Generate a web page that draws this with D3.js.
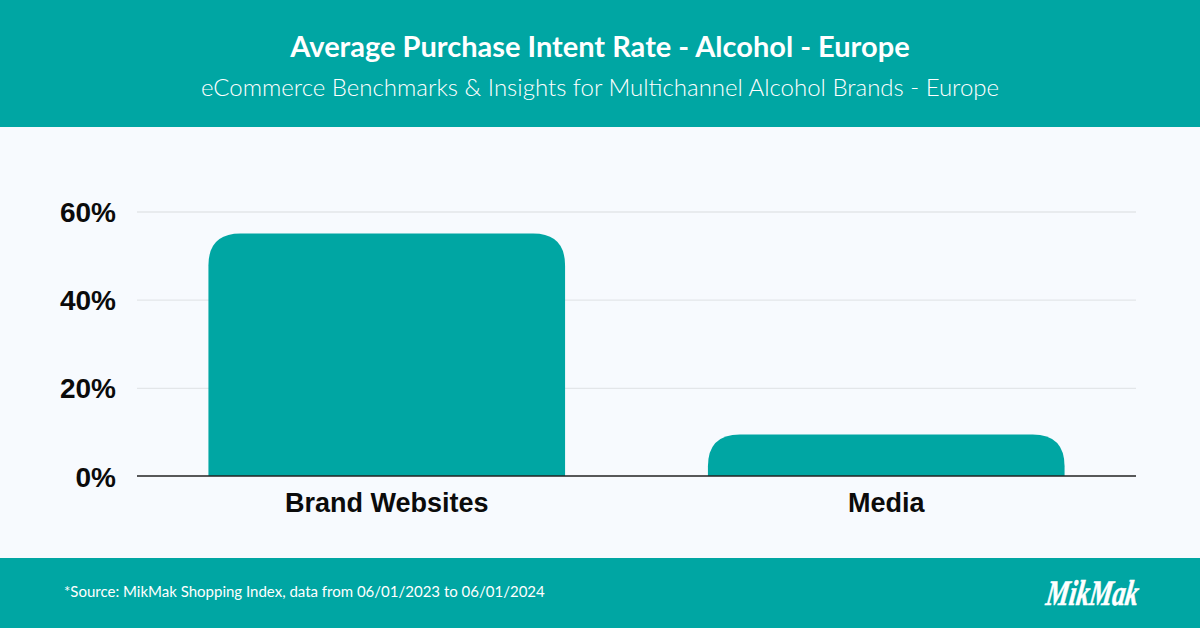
<!DOCTYPE html>
<html>
<head>
<meta charset="utf-8">
<script src="https://cdn.jsdelivr.net/npm/d3@7"></script>
<style>
html, body { margin: 0; padding: 0; background: #f7fafe; }
svg { display: block; font-family: Lato, sans-serif; }
.axis .domain { display: none; }
.axis--y line { stroke: #e3e6e9; stroke-width: 1.3; }
.axis--y text { font-size: 28px; font-weight: 700; fill: #0b0b0b; }
.axis--x line { display: none; }
.axis--x text { font-size: 27px; font-weight: 700; fill: #0b0b0b; }
</style>
</head>
<body>
<svg width="1200" height="628"></svg>
<script>
var titleText = "Average Purchase Intent Rate - Alcohol - Europe";
var subtitleText = "eCommerce Benchmarks & Insights for Multichannel Alcohol Brands - Europe";
var sourceText = "*Source: MikMak Shopping Index, data from 06/01/2023 to 06/01/2024";
var logoText = "MikMak";
var categories = ["Brand Websites", "Media"];
var values = [55, 9.4];
var yTicks = [0, 20, 40, 60];

var teal = "#00a6a3";
var svg = d3.select("svg"),
    margin = {top: 211.5, right: 64, bottom: 152, left: 137},
    width = +svg.attr("width") - margin.left - margin.right,
    height = +svg.attr("height") - margin.top - margin.bottom;

// header and footer bands
svg.append("rect").attr("width", 1200).attr("height", 127).attr("fill", teal);
svg.append("rect").attr("y", 558).attr("width", 1200).attr("height", 70).attr("fill", teal);

svg.append("text")
    .attr("x", 600).attr("y", 57)
    .attr("text-anchor", "middle")
    .attr("fill", "#fff")
    .style("font-size", "29px").style("font-weight", 700)
    .text(titleText);
svg.append("text")
    .attr("x", 600).attr("y", 96)
    .attr("text-anchor", "middle")
    .attr("fill", "#fff")
    .style("font-size", "24px").style("font-weight", 300)
    .text(subtitleText);
svg.append("text")
    .attr("x", 64).attr("y", 597)
    .attr("fill", "#fff")
    .style("font-size", "15px")
    .text(sourceText);
svg.append("text")
    .attr("transform", "translate(1045,605) skewX(-8)")
    .attr("fill", "#fff")
    .attr("stroke", "#fff")
    .attr("stroke-width", 0.6)
    .attr("textLength", 92)
    .attr("lengthAdjust", "spacingAndGlyphs")
    .style("font-family", "'Liberation Serif', serif")
    .style("font-size", "36px").style("font-style", "italic").style("font-weight", 700)
    .text(logoText);

var g = svg.append("g").attr("transform", "translate(" + margin.left + "," + margin.top + ")");

var x = d3.scaleBand().domain(categories).range([0, width]).paddingInner(0.286).paddingOuter(0.143);
var y = d3.scaleLinear().domain([0, 60]).range([height, 0]);

var yAxis = g.append("g")
    .attr("class", "axis axis--y")
    .call(d3.axisLeft(y).tickValues(yTicks).tickSize(-width).tickPadding(21).tickFormat(function(d) { return d + "%"; }));
yAxis.selectAll("text").attr("dy", "0.36em");
yAxis.selectAll(".tick").filter(function(d) { return d === 0; }).select("line").style("display", "none");

var radius = 32;
function barPath(d, i) {
    var x0 = x(d.name), w = x.bandwidth(), top = y(d.value), base = y(0);
    var r = Math.min(radius, base - top);
    return "M" + x0 + "," + base +
        "V" + (top + r) +
        "Q" + x0 + "," + top + " " + (x0 + r) + "," + top +
        "H" + (x0 + w - r) +
        "Q" + (x0 + w) + "," + top + " " + (x0 + w) + "," + (top + r) +
        "V" + base + "Z";
}

g.selectAll(".bar")
    .data(categories.map(function(c, i) { return {name: c, value: values[i]}; }))
    .enter().append("path")
    .attr("class", "bar")
    .attr("fill", teal)
    .attr("d", barPath);

// baseline sits on top of the bars
g.append("line")
    .attr("x1", 0).attr("x2", width)
    .attr("y1", y(0)).attr("y2", y(0))
    .attr("stroke", "#222").attr("stroke-width", 1.3);

g.append("g")
    .attr("class", "axis axis--x")
    .attr("transform", "translate(0," + height + ")")
    .call(d3.axisBottom(x).tickSize(0).tickPadding(17));
</script>
</body>
</html>
